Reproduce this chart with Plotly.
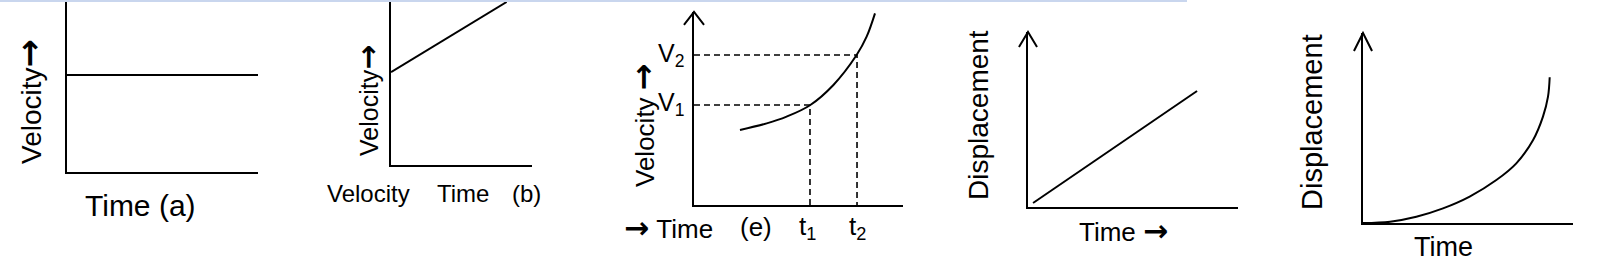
import plotly.graph_objects as go

# ---------------- data ----------------
a_time = [0, 10]
a_velocity = [5.7, 5.7]

b_time = [0, 8.2]
b_velocity = [5.7, 10]

e_time = [2.2, 3.48, 4.43, 5.55, 6.67, 7.78, 8.26, 8.66]
e_velocity = [3.89, 4.23, 4.58, 5.17, 6.22, 7.77, 8.72, 9.93]
e_t_marks = [5.55, 7.8]        # t1, t2
e_v_marks = [5.18, 7.77]       # V1, V2

d_time = [0.24, 8.05]
d_displacement = [0.23, 6.63]

f_time = [0.0, 1.29, 2.54, 3.81, 5.08, 6.35, 7.30, 8.10, 8.57, 8.81, 8.89]
f_displacement = [0.0, 0.07, 0.33, 0.77, 1.39, 2.26, 3.14, 4.37, 5.60, 6.65, 7.67]

# ---------------- layout helpers ----------------
W, H = 1600, 273
FONT = "Liberation Sans, Arial, sans-serif"


def px(x):
    return x / W


def py(y):
    return 1 - y / H


# panel boxes in pixels: (left, right, top, bottom)
panels = {
    1: (67, 258, 2, 172),
    2: (391, 532, 2, 165),
    3: (694, 903, 12, 205),
    4: (1028, 1238, 32, 207),
    5: (1363, 1573, 33, 223),
}

fig = go.Figure()

line_style = dict(color="black", width=2)

fig.add_trace(go.Scatter(x=a_time, y=a_velocity, mode="lines", line=line_style,
                         xaxis="x", yaxis="y", showlegend=False))
fig.add_trace(go.Scatter(x=b_time, y=b_velocity, mode="lines", line=line_style,
                         xaxis="x2", yaxis="y2", showlegend=False))
fig.add_trace(go.Scatter(x=e_time, y=e_velocity, mode="lines",
                         line=dict(color="black", width=2, shape="spline"),
                         xaxis="x3", yaxis="y3", showlegend=False))
for t, v in zip(e_t_marks, e_v_marks):
    fig.add_trace(go.Scatter(x=[0, t, t], y=[v, v, 0], mode="lines",
                             line=dict(color="black", width=1.6, dash="6px,4px"),
                             xaxis="x3", yaxis="y3", showlegend=False))
fig.add_trace(go.Scatter(x=d_time, y=d_displacement, mode="lines", line=line_style,
                         xaxis="x4", yaxis="y4", showlegend=False))
fig.add_trace(go.Scatter(x=f_time, y=f_displacement, mode="lines",
                         line=dict(color="black", width=2, shape="spline", smoothing=1.0),
                         xaxis="x5", yaxis="y5", showlegend=False))

axis_common = dict(range=[0, 10], showline=True, linewidth=2, linecolor="black",
                   showgrid=False, zeroline=False, showticklabels=False, ticks="",
                   fixedrange=True)

layout_axes = {}
for i, (l, r, t, b) in panels.items():
    sfx = "" if i == 1 else str(i)
    layout_axes["xaxis" + sfx] = dict(axis_common, domain=[px(l), px(r)],
                                      anchor="y" + sfx)
    layout_axes["yaxis" + sfx] = dict(axis_common, domain=[py(b), py(t)],
                                      anchor="x" + sfx)

fig.update_layout(**layout_axes)

# arrow heads on the vertical axes (in axis-domain units, so not clipped)
arrow_sizes = {3: (0.048, 0.067), 4: (0.043, 0.086), 5: (0.043, 0.095)}
shapes = []
for i, (dx, dy) in arrow_sizes.items():
    shapes.append(dict(type="path", xref=f"x{i} domain", yref=f"y{i} domain",
                       path=f"M {-dx},{1 - dy} L 0,1 L {dx},{1 - dy}",
                       line=dict(color="black", width=2)))
# light blue strip at the very top
shapes.append(dict(type="rect", xref="paper", yref="paper",
                   x0=0, x1=px(1187), y0=py(2), y1=1,
                   fillcolor="#c9d6ee", line=dict(width=0), layer="above"))


def label(text, x, y, size, angle=0, xanchor="center"):
    return dict(text=text, x=px(x), y=py(y), xref="paper", yref="paper",
                showarrow=False, textangle=angle, xanchor=xanchor, yanchor="middle",
                font=dict(family=FONT, size=size, color="black"))


NB = "\u00a0"


def arrow(size):
    return ('<span style="font-family:DejaVu Sans;font-size:%dpx;font-weight:bold">\u2192</span>'
            % size)


annotations = [
    # panel a
    label("Velocity" + arrow(34), 29, 102, 28, -90),
    label("Time" + NB + "(a)", 140, 205, 30),
    # panel b
    label("Velocity" + arrow(30), 367, 101, 25, -90),
    label("Velocity", 368, 193, 24),
    label("Time", 463, 193, 24),
    label("(b)", 526, 193, 24),
    # panel e
    label("Velocity" + NB + arrow(32), 643, 125, 26, -90),
    label("V<sub>2</sub>", 686, 55, 25, xanchor="right"),
    label("V<sub>1</sub>", 686, 104, 25, xanchor="right"),
    label(arrow(30) + NB + "Time", 668, 227, 26),
    label("(e)", 756, 227, 26),
    label("t<sub>1</sub>", 807, 227, 26),
    label("t<sub>2</sub>", 857, 227, 26),
    # panel d
    label("Displacement", 978, 115, 28, -90),
    label("Time" + NB + arrow(30), 1123, 230, 26),
    # panel f
    label("Displacement", 1312, 122, 29, -90),
    label("Time", 1443, 247, 27),
]

fig.update_layout(
    width=W, height=H,
    margin=dict(l=0, r=0, t=0, b=0),
    paper_bgcolor="white", plot_bgcolor="white",
    shapes=shapes, annotations=annotations,
    showlegend=False,
)

fig.write_html("out.html", config={"displayModeBar": False})
